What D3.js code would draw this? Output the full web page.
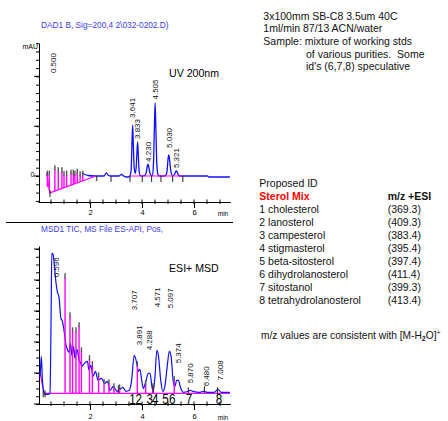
<!DOCTYPE html>
<html>
<head>
<meta charset="utf-8">
<script src="https://cdn.jsdelivr.net/npm/d3@7"></script>
<style>
body { margin: 0; background: #fff; }
svg text { font-family: "Liberation Sans", Arial, sans-serif; }
</style>
</head>
<body>
<svg id="chart" width="448" height="421"></svg>
<script>
// ---- values ----

// UV 200nm trace: [min, mAU]
var uvTrace = [[1.68,1.8],[1.77,1.2],[1.92,0.3],[2.19,0],[2.54,0],[2.63,1.8],[2.71,0.3],[2.81,0],
  [3.12,0],[3.21,1.0],[3.29,0],[3.38,-0.6],[3.48,-0.6],[3.54,0.3],[3.58,3],[3.61,17],[3.641,30.7],
  [3.67,17],[3.70,5],[3.74,1.6],[3.78,6],[3.805,14],[3.833,20.5],[3.86,12],[3.89,3],[3.93,0.3],
  [4.00,0],[4.10,0.2],[4.16,2],[4.20,5.5],[4.23,7.2],[4.26,5.5],[4.30,2],[4.35,0.3],[4.40,0.5],
  [4.44,7],[4.475,28],[4.505,44],[4.535,28],[4.57,7],[4.61,1],[4.66,0],[4.85,0],[4.93,0.8],
  [4.97,4],[5.00,10],[5.03,12.7],[5.06,10],[5.10,4],[5.15,0.6],[5.21,0.4],[5.26,1.2],[5.30,2.8],
  [5.321,3],[5.35,2.5],[5.40,0.6],[5.47,0],[6.52,0],[6.56,-0.6],[7.38,-0.6]];
// integrator drop lines in the solvent front: [min, top, bottom]
var uvDrops = [[0.36,3.2,-6.6],[0.435,3.2,-9.0],[0.65,6.4,-9.2],[0.78,5.2,-8.4],[0.92,5.2,-7.6],
  [1.00,2.8,-7.1],[1.10,3.2,-6.5],[1.27,3.8,-5.5],[1.36,3.8,-5.1],[1.42,3.2,-4.7],[1.51,4.4,-4.2],
  [1.62,2.8,-3.6],[1.72,3.2,-3.0]];
var uvFrontBase = [[0.33,2],[0.46,-10.2],[2.23,0]];
var uvPeakBase = [[3.54,0],[5.57,0]];
var uvMarks = [[0.46,-8.4,-12.7],[2.26,0,-3],[2.81,0,-3.6],[3.54,0,-3.6],[4.01,0,-3.6],
  [4.37,0,-3.6],[4.73,0,-3.6],[5.18,0,-3.6],[5.57,0,-3.6]];
var uvLabelTimes = [0.500, 3.641, 3.833, 4.230, 4.505, 5.030, 5.321];
var uvLabelLevels = [68, 41, 28.3, 14.5, 52.1, 22.9, 10.8];

// ESI+ TIC trace: [min, abundance]
var msTrace = [[0.04,15],[0.08,18],[0.13,37],[0.17,13],[0.21,3],[0.27,-1],[0.38,-1],[0.46,0],
  [0.48,23],[0.51,93],[0.53,140],[0.58,139],[0.63,128],[0.69,111],[0.75,101],[0.81,96],[0.88,75],
  [0.94,72],[1.00,63],[1.08,48],[1.13,44],[1.19,41],[1.25,50],[1.31,37],[1.37,47],[1.42,35],
  [1.50,44],[1.58,33],[1.63,31],[1.69,27],[1.75,29],[1.83,31],[1.90,32],[1.96,23],[2.03,28],
  [2.12,17],[2.21,22],[2.31,13],[2.44,15],[2.56,10],[2.67,12],[2.77,3],[2.90,7],[3.03,2],
  [3.12,3],[3.26,6],[3.38,2],[3.51,3],[3.60,13],[3.70,38],[3.80,30],[3.86,22],[3.92,24],
  [3.99,13],[4.05,5],[4.15,12],[4.24,20],[4.31,20],[4.38,7],[4.43,2],[4.50,17],[4.57,43],
  [4.63,38],[4.72,13],[4.80,2],[4.88,7],[4.97,27],[5.05,42],[5.12,37],[5.20,12],[5.27,7],
  [5.33,13],[5.40,13],[5.49,5],[5.59,1],[5.78,2],[5.85,3],[5.95,2],[6.23,1],[6.38,2],[6.50,1],
  [6.77,1],[6.93,4],[7.04,1],[7.38,1]];
var msDrops = [[1.04,120],[1.23,81],[1.33,66],[1.46,66],[1.58,71],[1.67,46],[1.98,38],[2.09,32],
  [2.33,21],[2.54,14],[2.73,14],[2.92,10],[3.14,9],[3.82,32],[4.14,13],[4.42,10],[5.24,17]];
var msStartBase = [[0.08,21],[0.23,0]];
var msBase = [[0.27,0],[7.38,0]];
var msMarks = [[0.20,3,-4],[0.27,3,-4],[3.09,8,0],[4.43,8,0],[5.78,6,0],[6.40,7,0],[6.90,6,-2]];
var msLabelTimes = [0.596, 3.707, 3.891, 4.288, 4.571, 5.097, 5.374, 5.870, 6.480, 7.008];
var msLabelLevels = [126, 93, 58, 53, 96, 95, 40, 20, 17, 23];
var compoundIds = ["1", "2", "3", "4", "5", "6", "7", "8"];
var compoundTimes = [3.63, 3.87, 4.30, 4.51, 4.90, 5.16, 5.81, 6.96];

var xTickLabels = [2, 4, 6];

var methodLines = ["3x100mm SB-C8 3.5um 40C", "1ml/min 87/13 ACN/water", "Sample: mixture of working stds"];
var methodIndented = ["of various purities.  Some", "id's (6,7,8) speculative"];
var sterolNames = ["1 cholesterol", "2 lanosterol", "3 campesterol", "4 stigmasterol",
  "5 beta-sitosterol", "6 dihydrolanosterol", "7 sitostanol", "8 tetrahydrolanosterol"];
var sterolMz = ["(369.3)", "(409.3)", "(383.4)", "(395.4)", "(397.4)", "(411.4)", "(399.3)", "(413.4)"];

// ---- drawing ----
var svg = d3.select("#chart");
var blue = "#1010ff", magenta = "#ff00ff", titleBlue = "#3b3bf2";

var x = d3.scaleLinear().domain([0, 7.4]).range([38, 230.4]);
var yUV = d3.scaleLinear().domain([-15.66, 80.1]).range([202, 43]);
var yMS = d3.scaleLinear().domain([-10.7, 147.3]).range([404, 246]);

function drawAxes(y, axisY, yTicks, yMajor, labelPad) {
  var gx = svg.append("g").attr("transform", "translate(0," + axisY + ")");
  gx.call(d3.axisBottom(x).tickValues(xTickLabels).tickSize(6).tickSizeOuter(0)
      .tickPadding(labelPad).tickFormat(d3.format("d")));
  gx.selectAll(".tick text").style("font-size", "7.5px");
  gx.selectAll(".minor").data(d3.range(0.5, 7.4, 0.5)).enter().append("line")
      .attr("x1", function(d) { return x(d); }).attr("x2", function(d) { return x(d); })
      .attr("y1", -2.5).attr("y2", 2).attr("stroke", "#000");
  gx.append("text").attr("x", 223).attr("y", 6 + labelPad + 6).attr("fill", "#000")
      .style("font-size", "6.5px").text("min");

  var gy = svg.append("g").attr("transform", "translate(39,0)");
  gy.call(d3.axisLeft(y).tickValues(yTicks).tickSize(3).tickSizeOuter(0).tickFormat(""));
  gy.selectAll(".major").data(yMajor).enter().append("line")
      .attr("x1", -5).attr("x2", 0)
      .attr("y1", function(d) { return y(d); }).attr("y2", function(d) { return y(d); })
      .attr("stroke", "#000");
}

function drawDrops(g, data, y, topOf, bottomOf) {
  g.selectAll(null).data(data).enter().append("line")
      .attr("x1", function(d) { return x(d[0]); }).attr("x2", function(d) { return x(d[0]); })
      .attr("y1", function(d) { return y(topOf(d)) + 4; })
      .attr("y2", function(d) { return y(bottomOf(d)); })
      .attr("stroke", magenta).attr("stroke-width", 1.4);
  g.selectAll(null).data(data).enter().append("line")
      .attr("x1", function(d) { return x(d[0]); }).attr("x2", function(d) { return x(d[0]); })
      .attr("y1", function(d) { return y(topOf(d)); })
      .attr("y2", function(d) { return y(topOf(d)) + 5; })
      .attr("stroke", "#555").attr("stroke-width", 1.4);
}

function drawMarks(g, data, y) {
  g.selectAll(null).data(data).enter().append("line")
      .attr("x1", function(d) { return x(d[0]); }).attr("x2", function(d) { return x(d[0]); })
      .attr("y1", function(d) { return y(d[1]); }).attr("y2", function(d) { return y(d[2]); })
      .attr("stroke", "#222").attr("stroke-width", 1);
}

function drawLabels(g, times, levels, y) {
  g.selectAll(null).data(times).enter().append("text")
      .attr("transform", function(d, i) {
        // the solvent-front label sits a little right of its peak in the original
        var nudge = d < 1 ? 2.5 : 0;
        return "translate(" + (x(d) + nudge) + "," + y(levels[i]) + ") rotate(-90)";
      })
      .attr("text-anchor", "middle").attr("dy", "0.35em")
      .style("font-size", "8px").attr("fill", "#111")
      .text(function(d) { return d.toFixed(3); });
}

function baseLine(y) {
  return d3.line().x(function(d) { return x(d[0]); }).y(function(d) { return y(d[1]); });
}

// top panel: DAD
svg.append("text").attr("x", 41).attr("y", 28).attr("fill", titleBlue)
    .style("font-size", "8.3px").text("DAD1 B, Sig=200,4 2\\032-0202.D)");
svg.append("text").attr("x", 38).attr("y", 49).attr("text-anchor", "end")
    .style("font-size", "7px").text("mAU");
svg.append("text").attr("x", 34.5).attr("y", yUV(0)).attr("dy", "0.1em")
    .attr("text-anchor", "end").style("font-size", "7px").text("0");
drawAxes(yUV, 202, d3.range(-15, 81, 5), [0, 30, 60], 2);

var gUV = svg.append("g");
gUV.append("path").datum(uvTrace).attr("fill", "none").attr("stroke", blue)
    .attr("stroke-width", 1.3)
    .attr("d", d3.line().curve(d3.curveMonotoneX)
      .x(function(d) { return x(d[0]); }).y(function(d) { return yUV(d[1]); }));
gUV.append("path").datum(uvFrontBase).attr("fill", "none").attr("stroke", magenta)
    .attr("stroke-width", 1.3).attr("d", baseLine(yUV));
gUV.append("path").datum(uvPeakBase).attr("fill", "none").attr("stroke", magenta)
    .attr("stroke-width", 1.2).attr("d", baseLine(yUV));
drawDrops(gUV, uvDrops, yUV, function(d) { return d[1]; }, function(d) { return d[2]; });
drawMarks(gUV, uvMarks, yUV);
drawLabels(gUV, uvLabelTimes, uvLabelLevels, yUV);
svg.append("text").attr("x", 169).attr("y", 77).style("font-size", "10.6px").text("UV 200nm");

// separator
svg.append("line").attr("x1", 6).attr("x2", 233).attr("y1", 222.5).attr("y2", 222.5)
    .attr("stroke", "#000").attr("stroke-width", 1);

// bottom panel: MSD TIC
svg.append("text").attr("x", 41).attr("y", 231.5).attr("fill", titleBlue)
    .style("font-size", "8.3px").text("MSD1 TIC, MS File ES-API, Pos,");
var msTicks = d3.range(0, 21).map(function(i) { return -10.7 + 7.75 * i; });
drawAxes(yMS, 404, msTicks, msTicks.filter(function(d, i) { return i % 4 === 0; }), 4);

var gMS = svg.append("g");
gMS.append("path").datum(msBase).attr("fill", "none").attr("stroke", magenta)
    .attr("stroke-width", 1.3).attr("d", baseLine(yMS));
gMS.append("path").datum(msStartBase).attr("fill", "none").attr("stroke", magenta)
    .attr("stroke-width", 1.2).attr("d", baseLine(yMS));
gMS.append("path").datum(msTrace).attr("fill", "none").attr("stroke", blue)
    .attr("stroke-width", 1.2)
    .attr("d", d3.line().curve(d3.curveMonotoneX)
      .x(function(d) { return x(d[0]); }).y(function(d) { return yMS(d[1]); }));
drawDrops(gMS, msDrops, yMS, function(d) { return d[1]; }, function() { return 0; });
drawMarks(gMS, msMarks, yMS);
drawLabels(gMS, msLabelTimes, msLabelLevels, yMS);
svg.append("text").attr("x", 169).attr("y", 272).style("font-size", "10.6px").text("ESI+ MSD");

gMS.selectAll(null).data(compoundIds).enter().append("text")
    .attr("transform", function(d, i) {
      return "translate(" + x(compoundTimes[i]) + ",403.5) scale(0.8,1)";
    })
    .attr("text-anchor", "middle").style("font-size", "14.5px").attr("fill", "#000")
    .text(function(d) { return d; });

// right side notes
var notes = svg.append("g").style("font-size", "10.5px").attr("fill", "#111");
notes.selectAll(null).data(methodLines).enter().append("text")
    .attr("x", 263.3).attr("y", function(d, i) { return 19.5 + i * 12.7; })
    .text(function(d) { return d; });
notes.selectAll(null).data(methodIndented).enter().append("text")
    .attr("x", 306).attr("y", function(d, i) { return 57.6 + i * 12.7; })
    .style("white-space", "pre").attr("xml:space", "preserve")
    .text(function(d) { return d; });

notes.append("text").attr("x", 259.3).attr("y", 187).text("Proposed ID");
notes.append("text").attr("x", 259.3).attr("y", 200).attr("fill", "#ff0000")
    .style("font-weight", "bold").text("Sterol Mix");
notes.append("text").attr("x", 387.7).attr("y", 200)
    .style("font-weight", "bold").text("m/z +ESI");
notes.selectAll(null).data(sterolNames).enter().append("text")
    .attr("x", 259.3).attr("y", function(d, i) { return 213 + i * 13; })
    .text(function(d) { return d; });
notes.selectAll(null).data(sterolMz).enter().append("text")
    .attr("x", 387.7).attr("y", function(d, i) { return 213 + i * 13; })
    .text(function(d) { return d; });

var mz = notes.append("text").attr("x", 261).attr("y", 338.5).style("font-size", "10.2px");
mz.append("tspan").text("m/z values are consistent with [M-H");
mz.append("tspan").attr("dy", 2.5).style("font-size", "7px").style("font-weight", "bold").text("2");
mz.append("tspan").attr("dy", -2.5).text("O]");
mz.append("tspan").attr("dy", -4).style("font-size", "7px").text("+");
</script>
</body>
</html>
